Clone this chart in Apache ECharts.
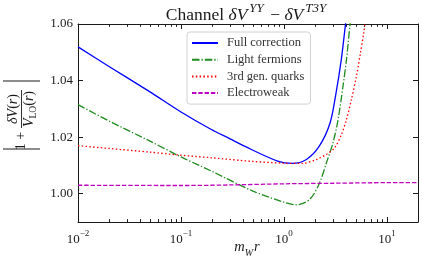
<!DOCTYPE html>
<html>
<head>
<meta charset="utf-8">
<script src="https://cdn.jsdelivr.net/npm/echarts@6/dist/echarts.min.js"></script>
<style>
html,body{margin:0;padding:0;background:#fff;}
#chart{width:422px;height:261px;}
</style>
</head>
<body>
<div id="chart"></div>
<script>
// ---- data ----
const fullX  = [0.01, 0.02, 0.05, 0.1, 0.195, 0.3, 0.413, 0.869, 1.2, 1.65, 2.2, 2.8, 3.2, 3.6, 3.9, 4.2];
const fullY  = [1.0519, 1.0450, 1.0360, 1.0289, 1.0228, 1.0194, 1.0168, 1.0115, 1.0107, 1.0121, 1.0168, 1.0250, 1.0356, 1.0474, 1.0580, 1.0680];

const lightX = [0.01, 0.02, 0.05, 0.1, 0.2, 0.5, 1.0, 1.32, 1.78, 2.22, 2.58, 2.99, 3.35, 3.74, 4.04, 4.35, 4.6];
const lightY = [1.0315, 1.0257, 1.0186, 1.0130, 1.0079, 1.0009, 0.9970, 0.9961, 0.9980, 1.0039, 1.0109, 1.0180, 1.0262, 1.0380, 1.0474, 1.0590, 1.0680];

const quarkX = [0.01, 0.02, 0.05, 0.1, 0.2, 0.5, 1.0, 1.5, 2.06, 2.58, 3.1, 3.61, 4.04, 4.51, 5.05, 5.52, 5.94, 6.3];
const quarkY = [1.0170, 1.0160, 1.0147, 1.0136, 1.0127, 1.0114, 1.0108, 1.0107, 1.0121, 1.0139, 1.0162, 1.0209, 1.0262, 1.0333, 1.0415, 1.0497, 1.0568, 1.0640];

const ewX = [0.01, 0.1, 0.3, 1.0, 3.0, 10.0, 20.0];
const ewY = [1.0030, 1.0029, 1.0031, 1.0035, 1.0037, 1.0039, 1.0039];

const seriesNames = ['Full correction', 'Light fermions', '3rd gen. quarks', 'Electroweak'];

const xMajorTicks = [0.01, 0.1, 1, 10];
const xMinorTicks = [0.02, 0.03, 0.04, 0.05, 0.06, 0.07, 0.08, 0.09,
                     0.2, 0.3, 0.4, 0.5, 0.6, 0.7, 0.8, 0.9,
                     2, 3, 4, 5, 6, 7, 8, 9];
const yTicks = [1.00, 1.02, 1.04, 1.06];

// ---- chart ----
const SERIF = '"Liberation Serif", "DejaVu Serif", serif';
const INK = '#1a1a1a';
const chart = echarts.init(document.getElementById('chart'), null, {renderer: 'canvas'});

function pairs(xs, ys) { return xs.map((x, i) => [x, ys[i]]); }

const X_MIN = 0.01, X_MAX = 20, Y_MIN = 0.99, Y_MAX = 1.06;

function xAxisDef(pos, ticks, len, showLine, showLabel) {
  return {
    type: 'log', logBase: 10, min: X_MIN, max: X_MAX, position: pos,
    axisLine: {show: showLine, onZero: false, lineStyle: {color: INK, width: 1}},
    axisTick: {show: true, inside: true, length: len, customValues: ticks, lineStyle: {color: INK, width: 1}},
    axisLabel: showLabel ? {
      show: true, customValues: ticks, margin: 7, color: INK,
      formatter: function (v) {
        const e = Math.round(Math.log10(v));
        return '{b|10}{s|' + (e < 0 ? '\u2212' + (-e) : e) + '}';
      },
      rich: {
        b: {fontFamily: SERIF, fontSize: 13, lineHeight: 17, verticalAlign: 'bottom', color: INK},
        s: {fontFamily: SERIF, fontSize: 9, lineHeight: 10, verticalAlign: 'top', color: INK}
      }
    } : {show: false},
    splitLine: {show: false}
  };
}
function yAxisDef(pos, showLabel) {
  return {
    type: 'value', min: Y_MIN, max: Y_MAX, position: pos,
    axisLine: {show: true, onZero: false, lineStyle: {color: INK, width: 1}},
    axisTick: {show: true, inside: true, length: 5, customValues: yTicks, lineStyle: {color: INK, width: 1}},
    axisLabel: showLabel ? {
      show: true, customValues: yTicks, margin: 5, color: INK,
      fontFamily: SERIF, fontSize: 13,
      formatter: v => v.toFixed(2)
    } : {show: false},
    splitLine: {show: false}
  };
}

const colors = ['#0000ff', '#1e8c1e', '#ff0000', '#c000c0'];
const dashes = ['solid', [7.5, 2, 1.3, 2], [1.5, 2.3], [4.4, 1.9]];
const datas = [pairs(fullX, fullY), pairs(lightX, lightY), pairs(quarkX, quarkY), pairs(ewX, ewY)];

const option = {
  animation: false,
  backgroundColor: '#ffffff',
  grid: {left: 78, right: 4, top: 24, bottom: 39, containLabel: false},
  xAxis: [
    xAxisDef('bottom', xMajorTicks, 5, true, true),
    xAxisDef('bottom', xMinorTicks, 2.8, false, false),
    xAxisDef('top', xMajorTicks, 5, true, false),
    xAxisDef('top', xMinorTicks, 2.8, false, false)
  ],
  yAxis: [yAxisDef('left', true), yAxisDef('right', false)],
  legend: {
    orient: 'vertical', left: 187, top: 32,
    padding: [4, 6, 4, 4], itemGap: 2.7,
    itemWidth: 26, itemHeight: 14,
    backgroundColor: '#ffffff', borderColor: '#d0d0d0', borderWidth: 1, borderRadius: 3,
    itemStyle: {opacity: 0, color: 'transparent', borderWidth: 0},
    textStyle: {fontFamily: SERIF, fontSize: 12.5, color: '#333', padding: [0, 0, 0, 4], lineHeight: 14},
    data: seriesNames,
    z: 10
  },
  graphic: [
    {
      type: 'text', x: 247, y: 13, z: 20,
      style: {
        text: '{n|Channel }{i|\u03b4V}{sup|YY}{n| \u2212 }{i|\u03b4V}{sup|T3Y}',
        align: 'center', verticalAlign: 'middle', textAlign: 'center', textVerticalAlign: 'middle',
        fill: INK,
        rich: {
          n: {fontFamily: SERIF, fontSize: 17.5, lineHeight: 22, verticalAlign: 'bottom', fill: INK},
          i: {fontFamily: SERIF, fontStyle: 'italic', fontSize: 17.5, lineHeight: 22, verticalAlign: 'bottom', fill: INK, padding: [0, 1, 0, 0]},
          sup: {fontFamily: SERIF, fontStyle: 'italic', fontSize: 13, lineHeight: 13, verticalAlign: 'top', fill: INK, padding: [0, 2, 0, 1]}
        }
      }
    },
    {
      type: 'text', x: 247, y: 249, z: 20,
      style: {
        text: '{i|m}{sub|W}{i|r}',
        align: 'center', verticalAlign: 'middle', textAlign: 'center', textVerticalAlign: 'middle',
        fill: INK,
        rich: {
          i: {fontFamily: SERIF, fontStyle: 'italic', fontSize: 14.5, lineHeight: 18, verticalAlign: 'top', fill: INK},
          sub: {fontFamily: SERIF, fontStyle: 'italic', fontSize: 10, lineHeight: 10, verticalAlign: 'bottom', fill: INK, padding: [0, 1, 0, 0]}
        }
      }
    },
    {
      type: 'group', x: 21, y: 115, rotation: Math.PI / 2, z: 20,
      children: [
        {type: 'line', shape: {x1: 34, y1: -18, x2: 34, y2: 19}, style: {stroke: INK, lineWidth: 1}},
        {type: 'line', shape: {x1: -34, y1: -18, x2: -34, y2: 19}, style: {stroke: INK, lineWidth: 1}},
        {type: 'line', shape: {x1: -13, y1: 0.5, x2: 25, y2: 0.5}, style: {stroke: INK, lineWidth: 0.9}},
        {
          type: 'text', x: -26, y: 0.5,
          style: {text: '1 +', fontFamily: SERIF, fontSize: 14, fill: INK,
                  align: 'center', verticalAlign: 'middle', textAlign: 'center', textVerticalAlign: 'middle'}
        },
        {
          type: 'text', x: 6, y: -8,
          style: {
            text: '{i|\u03b4V}{n|(}{i|r}{n|)}', fill: INK,
            align: 'center', verticalAlign: 'middle', textAlign: 'center', textVerticalAlign: 'middle',
            rich: {
              i: {fontFamily: SERIF, fontStyle: 'italic', fontSize: 14, fill: INK},
              n: {fontFamily: SERIF, fontSize: 14, fill: INK}
            }
          }
        },
        {
          type: 'text', x: 6, y: 9,
          style: {
            text: '{i|V}{sub|LO}{n|(}{i|r}{n|)}', fill: INK,
            align: 'center', verticalAlign: 'middle', textAlign: 'center', textVerticalAlign: 'middle',
            rich: {
              i: {fontFamily: SERIF, fontStyle: 'italic', fontSize: 14, lineHeight: 16, verticalAlign: 'top', fill: INK},
              n: {fontFamily: SERIF, fontSize: 14, lineHeight: 16, verticalAlign: 'top', fill: INK},
              sub: {fontFamily: SERIF, fontSize: 9.5, lineHeight: 10, verticalAlign: 'bottom', fill: INK}
            }
          }
        }
      ]
    }
  ],
  series: seriesNames.map((name, i) => ({
    name: name,
    type: 'line',
    xAxisIndex: 0, yAxisIndex: 0,
    data: datas[i],
    showSymbol: false, symbol: 'none',
    smooth: 0.3,
    clip: true,
    color: colors[i],
    lineStyle: {color: colors[i], width: 1.3, type: dashes[i]},
    z: 3
  }))
};
chart.setOption(option);
</script>
</body>
</html>
